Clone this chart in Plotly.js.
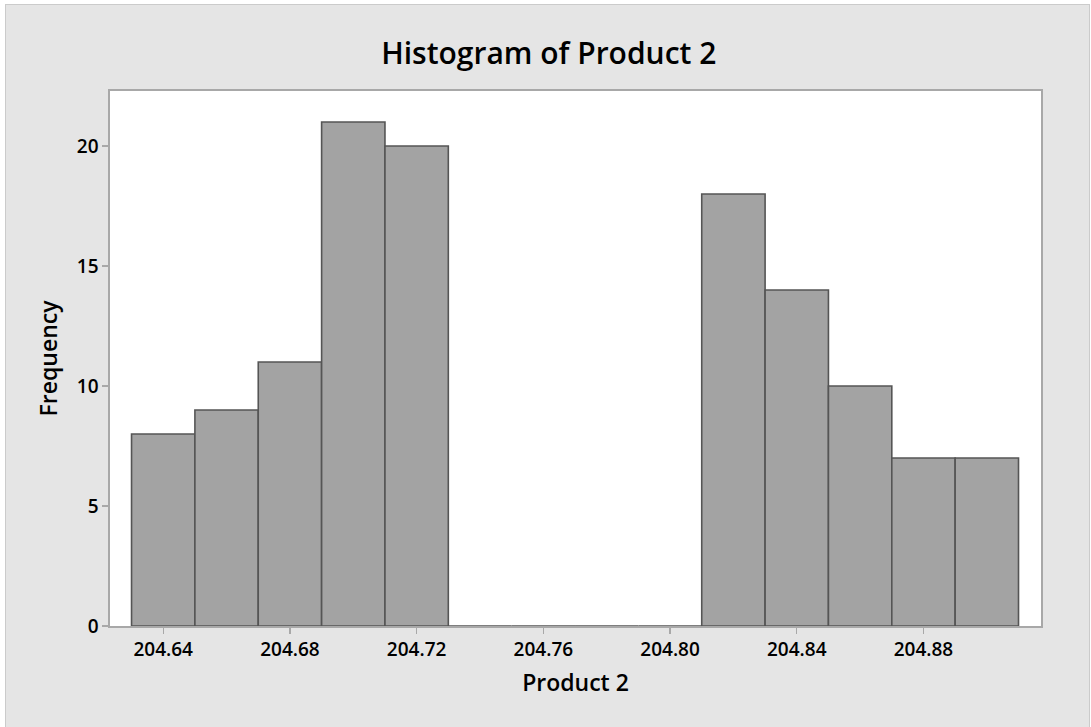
<!DOCTYPE html>
<html>
<head>
<meta charset="utf-8">
<script src="https://cdn.plot.ly/plotly-3.0.1.min.js"></script>
<style>
  html, body { margin: 0; padding: 0; background: #ffffff; }
  #wrap { position: relative; width: 1091px; height: 727px; overflow: hidden; }
  #panel {
    position: absolute; left: 5px; top: 4px; width: 1085px; height: 730px;
    background: #e5e5e5; border: 1px solid #cbcbcb; box-sizing: border-box;
  }
  #chart { position: absolute; left: 0; top: 0; width: 1091px; height: 727px; }
</style>
</head>
<body>
<div id="wrap">
  <div id="panel"></div>
  <div id="chart"></div>
</div>
<script>
// Bin midpoints (bin width 0.02) and the count in each bin
const binMidpoints = [204.64, 204.66, 204.68, 204.70, 204.72, 204.74, 204.76,
                      204.78, 204.80, 204.82, 204.84, 204.86, 204.88, 204.90];
const frequencies = [8, 9, 11, 21, 20, 0, 0, 0, 0, 18, 14, 10, 7, 7];
const binWidth = 0.02;

const xTickValues = [204.64, 204.68, 204.72, 204.76, 204.80, 204.84, 204.88];
const xTickLabels = ["204.64", "204.68", "204.72", "204.76", "204.80", "204.84", "204.88"];
const yTickValues = [0, 5, 10, 15, 20];

const fontFamily = '"Open Sans", "Noto Sans", "DejaVu Sans", sans-serif';

const trace = {
  type: 'bar',
  x: binMidpoints,
  y: frequencies,
  width: binMidpoints.map(() => binWidth),
  marker: { color: '#a3a3a3', line: { color: '#555555', width: 1.6 } },
  cliponaxis: false,
  hoverinfo: 'x+y'
};

const axisCommon = {
  showline: true, linecolor: '#a8a8a8', linewidth: 1.6, mirror: true,
  ticks: 'outside', ticklen: 6, tickwidth: 1.2, tickcolor: '#a8a8a8',
  showgrid: false, zeroline: false,
  tickfont: { family: fontFamily, size: 19, color: '#000', weight: 600 }
};

const layout = {
  width: 1091, height: 727,
  margin: { l: 110, r: 50, t: 91, b: 101, pad: 0 },
  paper_bgcolor: 'rgba(0,0,0,0)',
  plot_bgcolor: '#ffffff',
  showlegend: false,
  bargap: 0,
  title: {
    text: 'Histogram of Product 2',
    font: { family: fontFamily, size: 30, color: '#000', weight: 600 },
    xref: 'container', x: 0.503, xanchor: 'center',
    yref: 'container', y: 0.927, yanchor: 'middle'
  },
  xaxis: Object.assign({}, axisCommon, {
    range: [204.6232, 204.9171],
    tickmode: 'array', tickvals: xTickValues, ticktext: xTickLabels,
    title: { text: 'Product 2', standoff: 13,
             font: { family: fontFamily, size: 23, color: '#000', weight: 600 } }
  }),
  yaxis: Object.assign({}, axisCommon, {
    range: [0, 22.29],
    tickmode: 'array', tickvals: yTickValues, ticktext: yTickValues.map(String),
    title: { text: 'Frequency', standoff: 13,
             font: { family: fontFamily, size: 23, color: '#000', weight: 600 } }
  })
};

Plotly.newPlot('chart', [trace], layout, { displayModeBar: false, staticPlot: true });
</script>
</body>
</html>
